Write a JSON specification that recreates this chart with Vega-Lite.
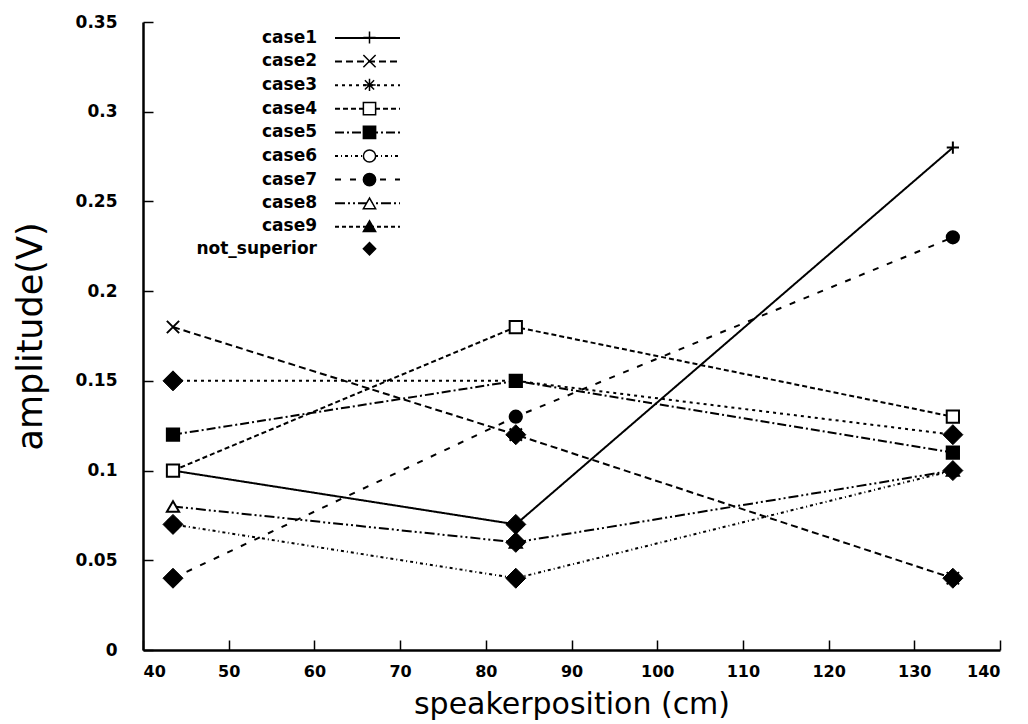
{
  "$schema": "https://vega.github.io/schema/vega-lite/v6.json",
  "autosize": "none",
  "width": 857,
  "height": 628,
  "padding": {"left": 143, "top": 22, "right": 28, "bottom": 74},
  "background": "white",
  "config": {
    "view": {"stroke": null},
    "font": "DejaVu Sans",
    "axis": {
      "grid": false,
      "domainColor": "black",
      "domainWidth": 2.5,
      "tickColor": "black",
      "tickWidth": 1.5,
      "tickSize": -10,
      "labelColor": "black",
      "labelFont": "DejaVu Sans",
      "labelFontWeight": "bold",
      "titleColor": "black",
      "titleFont": "DejaVu Sans",
      "titleFontWeight": "normal"
    },
    "legend": {
      "labelFont": "DejaVu Sans",
      "labelFontWeight": "bold",
      "labelFontSize": 17,
      "labelColor": "black"
    }
  },
  "data": {
    "values": [
      {"x": 43.5, "y": 0.10, "case": "case1"},
      {"x": 83.5, "y": 0.07, "case": "case1"},
      {"x": 134.5, "y": 0.28, "case": "case1"},
      {"x": 43.5, "y": 0.18, "case": "case2"},
      {"x": 83.5, "y": 0.12, "case": "case2"},
      {"x": 134.5, "y": 0.04, "case": "case2"},
      {"x": 43.5, "y": 0.15, "case": "case3"},
      {"x": 83.5, "y": 0.15, "case": "case3"},
      {"x": 134.5, "y": 0.12, "case": "case3"},
      {"x": 43.5, "y": 0.10, "case": "case4"},
      {"x": 83.5, "y": 0.18, "case": "case4"},
      {"x": 134.5, "y": 0.13, "case": "case4"},
      {"x": 43.5, "y": 0.12, "case": "case5"},
      {"x": 83.5, "y": 0.15, "case": "case5"},
      {"x": 134.5, "y": 0.11, "case": "case5"},
      {"x": 43.5, "y": 0.07, "case": "case6"},
      {"x": 83.5, "y": 0.04, "case": "case6"},
      {"x": 134.5, "y": 0.10, "case": "case6"},
      {"x": 43.5, "y": 0.04, "case": "case7"},
      {"x": 83.5, "y": 0.13, "case": "case7"},
      {"x": 134.5, "y": 0.23, "case": "case7"},
      {"x": 43.5, "y": 0.08, "case": "case8"},
      {"x": 83.5, "y": 0.06, "case": "case8"},
      {"x": 134.5, "y": 0.10, "case": "case8"},
      {"x": 43.5, "y": 0.15, "case": "not_superior"},
      {"x": 43.5, "y": 0.07, "case": "not_superior"},
      {"x": 43.5, "y": 0.04, "case": "not_superior"},
      {"x": 83.5, "y": 0.12, "case": "not_superior"},
      {"x": 83.5, "y": 0.07, "case": "not_superior"},
      {"x": 83.5, "y": 0.06, "case": "not_superior"},
      {"x": 83.5, "y": 0.04, "case": "not_superior"},
      {"x": 134.5, "y": 0.12, "case": "not_superior"},
      {"x": 134.5, "y": 0.10, "case": "not_superior"},
      {"x": 134.5, "y": 0.04, "case": "not_superior"}
    ]
  },
  "encoding": {
    "x": {
      "field": "x", "type": "quantitative",
      "scale": {"domain": [40, 140], "nice": false, "zero": false},
      "axis": {"values": [40,50,60,70,80,90,100,110,120,130,140], "labelFontSize": 16, "labelPadding": 23, "title": "speakerposition (cm)", "titleFontSize": 30, "titlePadding": 10}
    },
    "y": {
      "field": "y", "type": "quantitative",
      "scale": {"domain": [0, 0.35], "nice": false},
      "axis": {"values": [0,0.05,0.1,0.15,0.2,0.25,0.3,0.35], "format": "~g", "labelFontSize": 17, "labelPadding": 36, "title": "amplitude(V)", "titleFontSize": 35, "titlePadding": 27}
    }
  },
  "layer": [
    {
      "transform": [
        {"filter": "datum.case !== 'not_superior'"},
        {"calculate": "datum.case", "as": "line"}
      ],
      "mark": {"type": "line", "color": "black", "strokeWidth": 2},
      "encoding": {
        "strokeDash": {
          "field": "line", "type": "nominal",
          "scale": {
            "domain": ["case1","case2","case3","case4","case5","case6","case7","case8","case9","not_superior"],
            "range": [[1,0],[7,4],[3,4],[5,3],[9,3,2,3],[3,3,1,3],[6,9],[10,3,2,3,2,3],[4,3],[0,100]]
          },
          "legend": {
            "title": null,
            "orient": "none",
            "legendX": 191,
            "legendY": 7,
            "padding": 0,
            "symbolType": "stroke",
            "symbolSize": 4225,
            "symbolStrokeWidth": 2,
            "symbolStrokeColor": "black",
            "clipHeight": 18,
            "rowPadding": 5.6,
            "labelOpacity": 0,
            "labelColor": "transparent"
          }
        }
      }
    },
    {
      "transform": [{"filter": "datum.case !== 'not_superior'"}],
      "mark": {"type": "point", "filled": true, "stroke": "black", "strokeWidth": 2, "opacity": 1, "size": 150},
      "encoding": {
        "shape": {
          "field": "case", "type": "nominal",
          "scale": {
            "domain": ["case1","case2","case3","case4","case5","case6","case7","case8","case9","not_superior"],
            "range": ["M-1,0L1,0M0,-1L0,1","M-1,-1L1,1M-1,1L1,-1","M-1,0L1,0M0,-1L0,1M-0.75,-0.75L0.75,0.75M-0.75,0.75L0.75,-0.75","square","square","circle","circle","triangle-up","triangle-up","diamond"]
          },
          "legend": {
            "title": null,
            "orient": "top-left",
            "offset": 7,
            "padding": 0,
            "symbolOffset": 211,
            "labelAlign": "right",
            "labelOffset": -61,
            "rowPadding": 4.7,
            "symbolSize": 150,
            "encode": {"symbols": {"update": {
              "fill": {"scale": "fill", "field": "value"},
              "stroke": {"value": "black"},
              "strokeWidth": {"value": 2},
              "size": {"signal": "datum.value === 'not_superior' ? 220 : 150"}
            }}}
          }
        },
        "fill": {
          "field": "case", "type": "nominal",
          "scale": {
            "domain": ["case1","case2","case3","case4","case5","case6","case7","case8","case9","not_superior"],
            "range": ["transparent","transparent","transparent","white","black","white","black","white","black","black"]
          },
          "legend": null
        }
      }
    },
    {
      "transform": [{"filter": "datum.case === 'not_superior'"}],
      "mark": {"type": "point", "filled": true, "stroke": "black", "strokeWidth": 1, "opacity": 1, "size": 400},
      "encoding": {
        "shape": {"field": "case", "type": "nominal"},
        "fill": {"field": "case", "type": "nominal"}
      }
    }
  ]
}
